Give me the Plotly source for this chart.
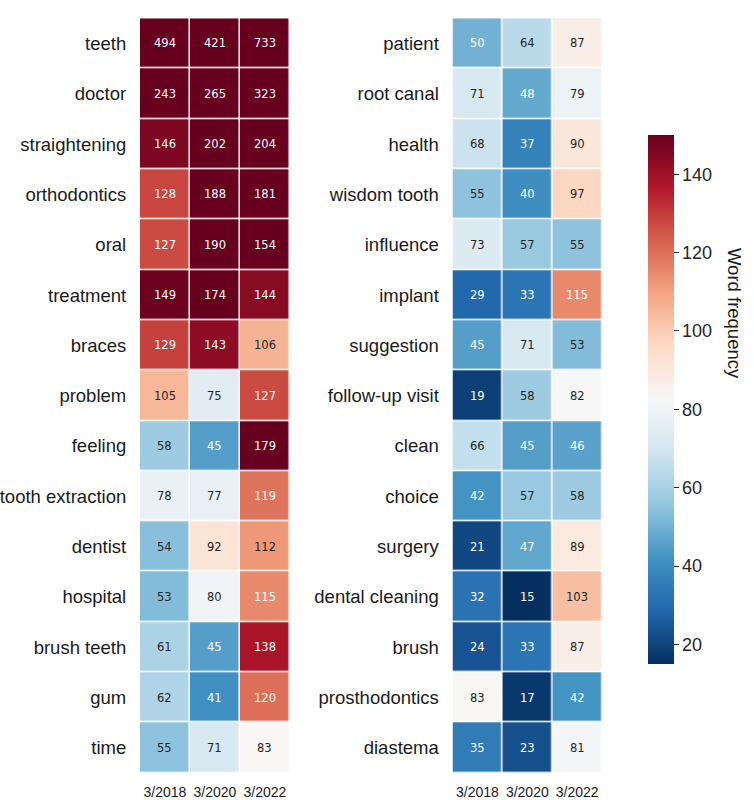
import plotly.graph_objects as go

periods = ["3/2018", "3/2020", "3/2022"]

left_words = ["teeth", "doctor", "straightening", "orthodontics", "oral", "treatment",
              "braces", "problem", "feeling", "tooth extraction", "dentist", "hospital",
              "brush teeth", "gum", "time"]
left_2018 = [494, 243, 146, 128, 127, 149, 129, 105, 58, 78, 54, 53, 61, 62, 55]
left_2020 = [421, 265, 202, 188, 190, 174, 143, 75, 45, 77, 92, 80, 45, 41, 71]
left_2022 = [733, 323, 204, 181, 154, 144, 106, 127, 179, 119, 112, 115, 138, 120, 83]

right_words = ["patient", "root canal", "health", "wisdom tooth", "influence", "implant",
               "suggestion", "follow-up visit", "clean", "choice", "surgery",
               "dental cleaning", "brush", "prosthodontics", "diastema"]
right_2018 = [50, 71, 68, 55, 73, 29, 45, 19, 66, 42, 21, 32, 24, 83, 35]
right_2020 = [64, 48, 37, 40, 57, 33, 71, 58, 45, 57, 47, 15, 33, 17, 23]
right_2022 = [87, 79, 90, 97, 55, 115, 53, 82, 46, 58, 89, 103, 87, 42, 81]

cbar_ticks = [20, 40, 60, 80, 100, 120, 140]
zmin, zmax = 15, 150

rdbu_r = ["#053061", "#2166ac", "#4393c3", "#92c5de", "#d1e5f0", "#f7f7f7",
          "#fddbc7", "#f4a582", "#d6604d", "#b2182b", "#67001f"]
colorscale = [[i / 10, c] for i, c in enumerate(rdbu_r)]


def hex2rgb(h):
    return [int(h[i:i + 2], 16) / 255 for i in (1, 3, 5)]


def color_at(v):
    t = min(max((v - zmin) / (zmax - zmin), 0), 1) * 10
    i = min(int(t), 9)
    f = t - i
    a, b = hex2rgb(rdbu_r[i]), hex2rgb(rdbu_r[i + 1])
    return [a[k] + (b[k] - a[k]) * f for k in range(3)]


def lum(rgb):
    lin = [c / 12.92 if c <= 0.03928 else ((c + 0.055) / 1.055) ** 2.4 for c in rgb]
    return 0.2126 * lin[0] + 0.7152 * lin[1] + 0.0722 * lin[2]


def rows(a, b, c):
    return [[a[i], b[i], c[i]] for i in range(len(a))]


zl = rows(left_2018, left_2020, left_2022)
zr = rows(right_2018, right_2020, right_2022)

fig = go.Figure()
fig.add_trace(go.Heatmap(z=zl, x=periods, y=left_words, xaxis="x", yaxis="y",
                         colorscale=colorscale, zmin=zmin, zmax=zmax, xgap=1.5, ygap=1.5,
                         showscale=False, hoverongaps=False))
fig.add_trace(go.Heatmap(z=zr, x=periods, y=right_words, xaxis="x2", yaxis="y2",
                         colorscale=colorscale, zmin=zmin, zmax=zmax, xgap=1.5, ygap=1.5,
                         showscale=True,
                         colorbar=dict(x=647.7 / 754, xanchor="left", xref="paper",
                                       y=1 - 399.5 / 800, yanchor="middle",
                                       xpad=0, ypad=0,
                                       len=529, lenmode="pixels", thickness=26,
                                       outlinewidth=0, ticks="outside", ticklen=5,
                                       tickwidth=1, tickcolor="#262626",
                                       tickvals=cbar_ticks, tickprefix=" ",
                                       tickfont=dict(family="Arial, Liberation Sans", size=18, color="#262626"))))

annotations = []
for words, z, xa, ya in [(left_words, zl, "x", "y"), (right_words, zr, "x2", "y2")]:
    for i, w in enumerate(words):
        for j, p in enumerate(periods):
            v = z[i][j]
            col = "#262626" if lum(color_at(v)) > 0.408 else "white"
            annotations.append(dict(x=p, y=w, xref=xa, yref=ya, text=str(v), showarrow=False,
                                    font=dict(family="DejaVu Sans", size=11.5, color=col)))

annotations.append(dict(x=747 / 754, y=1 - 246 / 800, xref="paper", yref="paper",
                        text="Word frequency", textangle=90, showarrow=False,
                        font=dict(family="Arial, Liberation Sans", size=18.5, color="#1a1a1a")))

ydom = [1 - 773 / 800, 1 - 18.3 / 800]
xfont = dict(family="Arial, Liberation Sans", size=14, color="#1a1a1a")
yfont = dict(family="Arial, Liberation Sans", size=18.5, color="#1a1a1a")
fig.update_layout(
    width=754, height=800, margin=dict(l=0, r=0, t=0, b=0),
    paper_bgcolor="white", plot_bgcolor="white",
    xaxis=dict(domain=[138.3 / 754, 288.7 / 754], tickfont=xfont, ticks="outside", ticklen=6,
               tickcolor="rgba(0,0,0,0)", showgrid=False, zeroline=False, anchor="y"),
    yaxis=dict(domain=ydom, tickfont=yfont, autorange="reversed", ticks="outside", ticklen=9,
               tickcolor="rgba(0,0,0,0)", showgrid=False, zeroline=False, anchor="x"),
    xaxis2=dict(domain=[451.7 / 754, 601.7 / 754], tickfont=xfont, ticks="outside", ticklen=6,
                tickcolor="rgba(0,0,0,0)", showgrid=False, zeroline=False, anchor="y2"),
    yaxis2=dict(domain=ydom, tickfont=yfont, autorange="reversed", ticks="outside", ticklen=9,
                tickcolor="rgba(0,0,0,0)", showgrid=False, zeroline=False, anchor="x2"),
    annotations=annotations,
)

fig.write_html("out.html")
